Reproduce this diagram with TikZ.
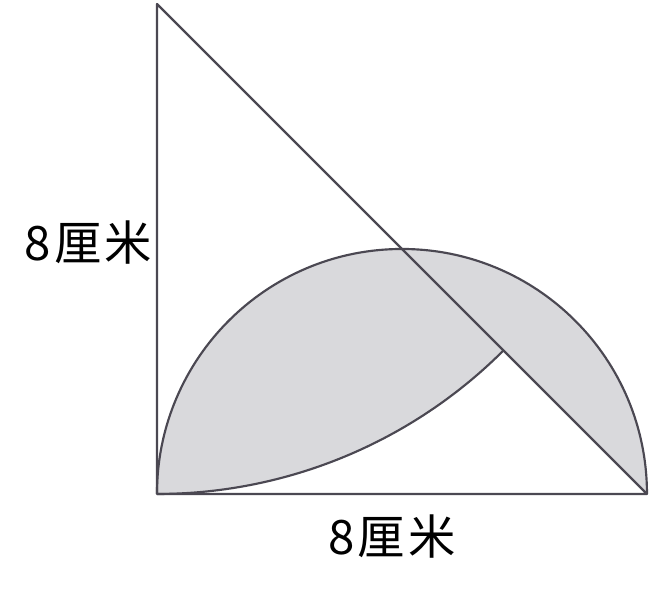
\documentclass[tikz,border=0pt]{standalone}
\usepackage{fontspec}
\newfontfamily\cjk{Noto Sans CJK SC}
\definecolor{bianse}{HTML}{4B4852}
\definecolor{yinse}{HTML}{D9D9DC}
\begin{document}
\begin{tikzpicture}
    \tikzstyle{bian}= [draw=bianse, line width=1pt, line join=round]
    \tikzstyle{yin}= [fill=yinse, even odd rule]
    \tikzstyle{biaoqian}= [font=\cjk\fontsize{22}{22}\selectfont, text=black, inner sep=0pt]
  \def\a{8}
  \pgfmathsetmacro{\r}{\a/2}
  \pgfmathsetmacro{\d}{\a*cos(45)}
  \useasboundingbox (-2.563,-1.698) rectangle (8.082,8.065);

  \coordinate (B) at (0,0);
  \coordinate (A) at (0,\a);
  \coordinate (C) at (\a,0);
  \coordinate (D) at (\d,\a-\d);

  % shaded part: semicircle without the white piece
  \path[yin] (B) arc (180:0:\r) -- cycle
             (B) -- (C) -- (D) arc (-45:-90:\a) -- cycle;

  \draw[bian] (B) arc (180:0:\r);
  \draw[bian] (B) arc (-90:-45:\a);
  \draw[bian] (A) -- (B) -- (C) -- cycle;

  \node[biaoqian, anchor=east] (zuo) at (-0.08,4.1) {8\hspace{0.06em}厘\hspace{0.06em}米};
  \node[biaoqian] (xia) at (3.84,-0.70) {8\hspace{0.06em}厘\hspace{0.06em}米};

\end{tikzpicture}
\end{document}
